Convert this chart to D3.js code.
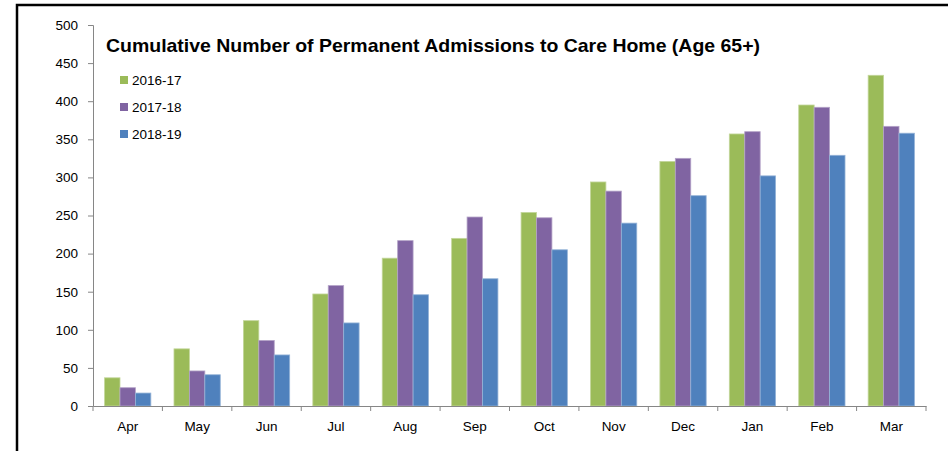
<!DOCTYPE html>
<html>
<head>
<meta charset="utf-8">
<script src="https://cdn.jsdelivr.net/npm/d3@7"></script>
<style>
  body { margin: 0; background: #fff; }
  text { font-family: "Liberation Sans", Arial, sans-serif; }
</style>
</head>
<body>
<script>
const width = 948;
const height = 451;

// data
const months = ["Apr", "May", "Jun", "Jul", "Aug", "Sep", "Oct", "Nov", "Dec", "Jan", "Feb", "Mar"];
const seriesNames = ["2016-17", "2017-18", "2018-19"];
const values1617 = [37, 75, 112, 147, 194, 220, 254, 294, 321, 357, 395, 434];
const values1718 = [24, 46, 86, 158, 217, 248, 247, 282, 325, 360, 392, 367];
const values1819 = [17, 41, 67, 109, 146, 167, 205, 240, 276, 302, 329, 358];
const yTicks = [0, 50, 100, 150, 200, 250, 300, 350, 400, 450, 500];
const colors = ["#9BBB59", "#8064A2", "#4F81BD"];
const edges = ["#C3D69B", "#B3A2C7", "#95B3D7"];

const allSeries = [values1617, values1718, values1819];

const svg = d3.select("body")
	.append("svg")
	.attr("width", width)
	.attr("height", height);

// outer frame (cropped, only top and left edges visible)
svg.append("rect")
	.attr("x", 17)
	.attr("y", 5)
	.attr("width", 1000)
	.attr("height", 1000)
	.attr("fill", "none")
	.attr("stroke", "#000")
	.attr("stroke-width", 2.5);

const plot = { left: 93, right: 926, top: 25, bottom: 406 };

const x = d3.scaleBand()
	.domain(months)
	.range([plot.left, plot.right])
	.paddingInner(0)
	.paddingOuter(0);

// gap width ~150% of a bar
const xInner = d3.scaleBand()
	.domain(seriesNames)
	.range([0, x.bandwidth()])
	.paddingInner(0)
	.paddingOuter(0.75);

const y = d3.scaleLinear()
	.domain([0, 500])
	.range([plot.bottom, plot.top]);

// bars
const groups = svg.selectAll("g.month")
	.data(months)
	.enter()
	.append("g")
	.attr("class", "month")
	.attr("transform", (d) => `translate(${x(d)},0)`);

groups.selectAll("rect")
	.data((m, i) => seriesNames.map((s, j) => ({ s: s, j: j, v: allSeries[j][i] })))
	.enter()
	.append("rect")
	.attr("x", (d) => xInner(d.s))
	.attr("y", (d) => y(d.v))
	.attr("width", xInner.bandwidth())
	.attr("height", (d) => y(0) - y(d.v))
	.attr("fill", (d) => colors[d.j])
	.attr("stroke", (d) => edges[d.j])
	.attr("stroke-width", 0.8);

// y axis
const yAxis = svg.append("g")
	.attr("transform", `translate(${plot.left},0)`)
	.call(d3.axisLeft(y).tickValues(yTicks).tickSize(5).tickPadding(10));

// x axis
const xAxis = svg.append("g")
	.attr("transform", `translate(0,${plot.bottom})`)
	.call(d3.axisBottom(x).tickSize(0).tickPadding(15));

// tick marks at category boundaries
const bounds = months.map((m) => x(m)).concat([plot.right]);
xAxis.selectAll("line.bound")
	.data(bounds)
	.enter()
	.append("line")
	.attr("class", "bound")
	.attr("x1", (d) => d)
	.attr("x2", (d) => d)
	.attr("y1", 0)
	.attr("y2", 5);

[yAxis, xAxis].forEach((g) => {
	g.selectAll("path.domain").attr("stroke", "#868686");
	g.selectAll("line").attr("stroke", "#868686");
	g.selectAll("text")
		.attr("fill", "#000")
		.style("font-size", "13.5px")
		.style("font-family", "'Liberation Sans', Arial, sans-serif");
});

// title
svg.append("text")
	.attr("x", 106)
	.attr("y", 52)
	.attr("textLength", 654)
	.attr("lengthAdjust", "spacingAndGlyphs")
	.style("font-size", "19px")
	.style("font-weight", "bold")
	.text("Cumulative Number of Permanent Admissions to Care Home (Age 65+)");

// legend
const legend = svg.selectAll("g.legend")
	.data(seriesNames)
	.enter()
	.append("g")
	.attr("class", "legend")
	.attr("transform", (d, i) => `translate(120,${76 + i * 27})`);

legend.append("rect")
	.attr("width", 8)
	.attr("height", 8)
	.attr("fill", (d, i) => colors[i]);

legend.append("text")
	.attr("x", 12)
	.attr("y", 4)
	.attr("dy", "0.35em")
	.style("font-size", "13.5px")
	.text((d) => d);
</script>
</body>
</html>
